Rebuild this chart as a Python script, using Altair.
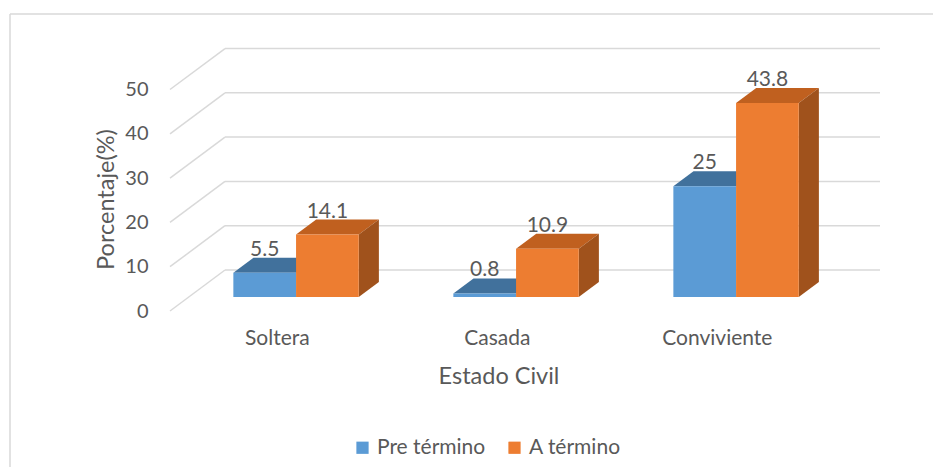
import altair as alt
import pandas as pd

# ---- data ----
categories = ["Soltera", "Casada", "Conviviente"]
series = ["Pre término", "A término"]
pre_termino = [5.5, 0.8, 25]
a_termino = [14.1, 10.9, 43.8]
y_ticks = [0, 10, 20, 30, 40, 50]

# ---- styling ----
FONT = "Lato"
FS = 21
FS_TICK = 20
FS_TITLE = 23.5
TXT = "#595959"
GRID = "#D9D9D9"
FRONT = {"Pre término": "#5B9BD5", "A término": "#ED7D31"}
TOP = {"Pre término": "#41719C", "A término": "#C0601F"}
SIDE = "#A0521C"

# ---- pseudo-3D projection (in data units) ----
DX = 0.25      # x shift of the full depth
DY = 9.255     # y shift of the full depth
Z0, Z1 = 0.341, 0.707   # depth of bar front / back
BW = 0.285     # bar width
XMIN, XMAX = -0.4877, 2.7395
YMAX = 59.6

xs = alt.Scale(domain=[XMIN, XMAX], nice=False, zero=False)
ys = alt.Scale(domain=[0, YMAX], nice=False, zero=False)

rows = []
for i, cat in enumerate(categories):
    for s, vals in ((series[0], pre_termino), (series[1], a_termino)):
        v = vals[i]
        xa = i - BW if s == series[0] else i
        xb = xa + BW
        for z in (Z0, Z1):
            rows.append(dict(cat=cat, series=s, bar=f"{cat}-{s}", value=v, z=z,
                             xa=xa + z * DX, xb=xb + z * DX,
                             xc=(xa + xb) / 2 + Z0 * DX,
                             ybase=z * DY, ytop=v + z * DY,
                             ylab=v + Z1 * DY))
df = pd.DataFrame(rows)
front = df[df.z == Z0].reset_index(drop=True)

grid_rows = []
for t in y_ticks:
    grid_rows.append(dict(x=XMIN, x2=XMIN + DX, y=t, y2=t + DY))
    grid_rows.append(dict(x=XMIN + DX, x2=XMAX, y=t + DY, y2=t + DY))
grid = pd.DataFrame(grid_rows)

cat_df = pd.DataFrame({"cat": categories, "lx": list(range(len(categories)))})

# gridlines + y axis
grid_layer = alt.Chart(grid).mark_rule(color=GRID, strokeWidth=1.5).encode(
    x=alt.X("x:Q", scale=xs, axis=None), x2="x2:Q",
    y=alt.Y("y:Q", scale=ys,
            axis=alt.Axis(values=y_ticks, ticks=False, domain=False, grid=False,
                          labelPadding=22, labelFont=FONT, labelFontSize=FS_TICK,
                          labelColor=TXT, title="Porcentaje(%)",
                          titleFont=FONT, titleFontSize=FS_TITLE, titleColor=TXT,
                          titleFontWeight="normal", titleAngle=270,
                          titleX=-64, titleY=152, titleAlign="center",
                          titleBaseline="middle")),
    y2="y2:Q")

layers = [grid_layer]
for s in series:
    top = alt.Chart(df).transform_filter(alt.datum.series == s).mark_area(
        orient="horizontal", color=TOP[s]).encode(
        y=alt.Y("ytop:Q", scale=ys), x=alt.X("xa:Q", scale=xs), x2="xb:Q",
        detail="bar:N")
    layers.append(top)
    if s == series[1]:
        side = alt.Chart(df).transform_filter(alt.datum.series == s).mark_area(
            orient="vertical", color=SIDE).encode(
            x=alt.X("xb:Q", scale=xs), y=alt.Y("ybase:Q", scale=ys), y2="ytop:Q",
            detail="bar:N")
        layers.append(side)
    fr = alt.Chart(front).transform_filter(alt.datum.series == s).mark_rect().encode(
        x=alt.X("xa:Q", scale=xs), x2="xb:Q",
        y=alt.Y("ybase:Q", scale=ys), y2="ytop:Q",
        color=alt.Color("series:N",
                        scale=alt.Scale(domain=series,
                                        range=[FRONT[series[0]], FRONT[series[1]]]),
                        legend=alt.Legend(orient="none", legendX=182, legendY=390,
                                          direction="horizontal", title=None,
                                          symbolType="square", symbolSize=150,
                                          symbolStrokeWidth=0, labelFont=FONT,
                                          labelFontSize=FS, labelColor=TXT,
                                          labelOffset=4, columnPadding=18)))
    layers.append(fr)

labels = alt.Chart(front).mark_text(font=FONT, fontSize=FS, color=TXT,
                                    baseline="alphabetic", dy=-2).encode(
    x=alt.X("xc:Q", scale=xs), y=alt.Y("ylab:Q", scale=ys), text="value:Q")
layers.append(labels)

cats = alt.Chart(cat_df).mark_text(font=FONT, fontSize=FS, color=TXT,
                                   baseline="middle").encode(
    x=alt.X("lx:Q", scale=xs), y=alt.value(292), text="cat:N")
layers.append(cats)

xtitle = alt.Chart(pd.DataFrame({"t": ["Estado Civil"]})).mark_text(
    font=FONT, fontSize=FS_TITLE, color=TXT, baseline="middle").encode(
    x=alt.value(329), y=alt.value(330), text="t:N")
layers.append(xtitle)

frame_top = alt.Chart(pd.DataFrame({"a": [0]})).mark_rule(color=GRID, strokeWidth=1.5).encode(
    x=alt.value(-160), x2=alt.value(771), y=alt.value(-33))
frame_left = alt.Chart(pd.DataFrame({"a": [0]})).mark_rule(color=GRID, strokeWidth=1.5).encode(
    x=alt.value(-160), y=alt.value(-33), y2=alt.value(425))
layers += [frame_top, frame_left]

chart = alt.layer(*layers).properties(
    width=710, height=264,
    padding={"left": 162, "top": 39, "right": 53, "bottom": 156},
    autosize=alt.AutoSizeParams(type="none"),
    background="white",
).configure_view(strokeWidth=0)

chart.save("out.html", embed_options={"renderer": "svg", "actions": False})
